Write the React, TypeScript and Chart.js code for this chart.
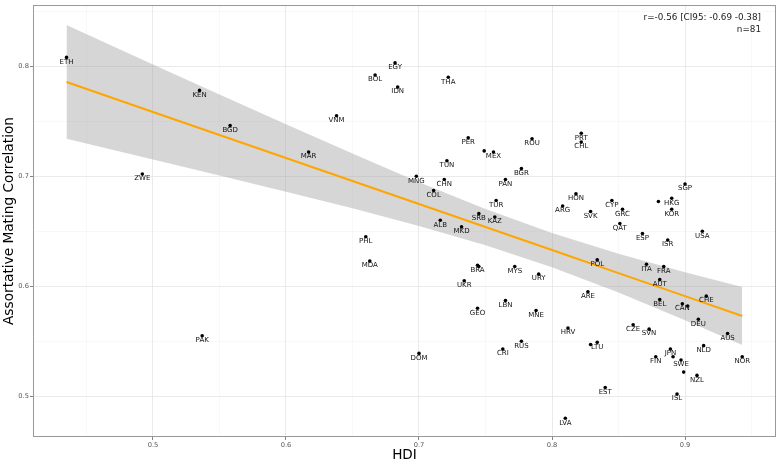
import React, { useRef, useEffect } from 'react';
import { Chart, registerables } from 'chart.js';

Chart.register(...registerables);

// Country codes (empty = point whose label was dropped for overlap)
const countries = [
  'ETH', 'KEN', 'BGD', 'MAR', 'ZWE', 'VNM', 'BOL', 'EGY', 'IDN', 'PHL',
  'MDA', 'PAK', 'THA', 'PER', '', 'MEX', 'ROU', 'PRT', 'CHL', 'TUN',
  'BGR', 'MNG', 'CHN', 'PAN', 'COL', 'TUR', 'HON', 'ARG', 'SVK', 'CYP',
  'GRC', 'QAT', 'SRB', 'KAZ', 'ALB', 'MKD', 'SGP', '', 'HKG', 'KOR',
  'ESP', 'USA', 'ISR', 'BRA', '', 'MYS', 'URY', 'UKR', 'POL', 'ITA',
  'FRA', 'AUT', 'ARE', 'CHE', 'BEL', 'CAN', '', 'LBN', 'GEO', 'MNE',
  'DEU', 'CZE', 'SVN', 'HRV', 'AUS', 'RUS', 'LTU', '', 'CRI', 'NLD',
  'DOM', 'JPN', '', 'FIN', 'SWE', 'NOR', '', 'NZL', 'EST', 'ISL',
  'LVA',
];

const hdi = [
  0.435, 0.535, 0.558, 0.617, 0.492, 0.638, 0.667, 0.682, 0.684, 0.660,
  0.663, 0.537, 0.722, 0.737, 0.749, 0.756, 0.785, 0.822, 0.822, 0.721,
  0.777, 0.698, 0.719, 0.765, 0.711, 0.758, 0.818, 0.808, 0.829, 0.845,
  0.853, 0.851, 0.745, 0.757, 0.716, 0.732, 0.900, 0.880, 0.890, 0.890,
  0.868, 0.913, 0.887, 0.744, 0.745, 0.772, 0.790, 0.734, 0.834, 0.871,
  0.884, 0.881, 0.827, 0.916, 0.881, 0.898, 0.902, 0.765, 0.744, 0.788,
  0.910, 0.861, 0.873, 0.812, 0.932, 0.777, 0.834, 0.829, 0.763, 0.914,
  0.700, 0.889, 0.891, 0.878, 0.897, 0.943, 0.899, 0.909, 0.840, 0.894,
  0.810,
];

const matingCorr = [
  0.808, 0.778, 0.746, 0.722, 0.702, 0.755, 0.792, 0.803, 0.781, 0.645,
  0.623, 0.555, 0.790, 0.735, 0.723, 0.722, 0.734, 0.739, 0.731, 0.714,
  0.707, 0.700, 0.697, 0.697, 0.687, 0.678, 0.684, 0.673, 0.668, 0.678,
  0.670, 0.657, 0.666, 0.663, 0.660, 0.654, 0.693, 0.677, 0.680, 0.670,
  0.648, 0.650, 0.642, 0.619, 0.618, 0.618, 0.611, 0.605, 0.624, 0.620,
  0.618, 0.606, 0.595, 0.591, 0.588, 0.584, 0.582, 0.587, 0.580, 0.578,
  0.570, 0.565, 0.561, 0.562, 0.557, 0.550, 0.549, 0.547, 0.543, 0.546,
  0.539, 0.543, 0.536, 0.536, 0.533, 0.536, 0.522, 0.519, 0.508, 0.502,
  0.480,
];

// Linear fit and its 95% band
const fitX = [0.435, 0.5, 0.55, 0.6, 0.65, 0.7, 0.75, 0.8, 0.85, 0.9, 0.943];
const fitY = [0.7857, 0.7584, 0.7375, 0.7166, 0.6957, 0.6747, 0.6538, 0.6329, 0.6119, 0.591, 0.573];
const fitLow = [0.734, 0.7152, 0.7007, 0.686, 0.6708, 0.6548, 0.6373, 0.6173, 0.5943, 0.5692, 0.5466];
const fitHigh = [0.8374, 0.8016, 0.7743, 0.7472, 0.7206, 0.6946, 0.6703, 0.6485, 0.6295, 0.6128, 0.5994];

const xTicks = [0.45, 0.5, 0.55, 0.6, 0.65, 0.7, 0.75, 0.8, 0.85, 0.9, 0.95];
const yTicks = [0.5, 0.55, 0.6, 0.65, 0.7, 0.75, 0.8, 0.85];

const statText = ['r=-0.56 [CI95: -0.69 -0.38]', 'n=81'];

const FONT = "'DejaVu Sans', sans-serif";

const isMajor = (v: number) => Math.abs(v * 10 - Math.round(v * 10)) < 1e-6;

const pointLabels = {
  id: 'pointLabels',
  afterDatasetsDraw(chart: any) {
    const meta = chart.getDatasetMeta(0);
    const ctx = chart.ctx;
    ctx.save();
    ctx.font = `7px ${FONT}`;
    ctx.fillStyle = '#111';
    ctx.textAlign = 'center';
    ctx.textBaseline = 'middle';
    meta.data.forEach((pt: any, i: number) => {
      if (countries[i]) ctx.fillText(countries[i], pt.x, pt.y + 4.5);
    });
    ctx.restore();
  },
};

const panelFrame = {
  id: 'panelFrame',
  afterDraw(chart: any) {
    const { ctx, chartArea: a } = chart;
    ctx.save();
    ctx.strokeStyle = '#999999';
    ctx.lineWidth = 1;
    ctx.strokeRect(a.left + 0.5, a.top + 0.5, a.right - a.left - 1, a.bottom - a.top - 1);
    ctx.font = `8.8px ${FONT}`;
    ctx.fillStyle = '#222';
    ctx.textAlign = 'right';
    ctx.textBaseline = 'middle';
    statText.forEach((t, i) => ctx.fillText(t, a.right - 15, a.top + 12.5 + i * 12));
    ctx.restore();
  },
};

const App: React.FC = () => {
  const canvasRef = useRef<HTMLCanvasElement>(null);
  const chartRef = useRef<Chart | null>(null);

  useEffect(() => {
    document.body.style.margin = '0';
    if (!canvasRef.current) return;
    if (chartRef.current) chartRef.current.destroy();

    const gridOpts = {
      color: (c: any) => (isMajor(c.tick.value) ? '#e8e8e8' : '#f1f1f1'),
      lineWidth: (c: any) => (isMajor(c.tick.value) ? 0.9 : 0.5),
      tickColor: (c: any) => (isMajor(c.tick.value) ? '#666' : 'rgba(0,0,0,0)'),
      tickLength: 3,
      tickWidth: 0.8,
    };
    const tickOpts = {
      font: { family: FONT, size: 6.7 },
      color: '#555',
      padding: 1,
      autoSkip: false,
      maxRotation: 0,
      callback: (v: any) => (isMajor(Number(v)) ? Number(v).toFixed(1) : ''),
    };

    chartRef.current = new Chart(canvasRef.current, {
      type: 'scatter',
      data: {
        datasets: [
          {
            data: hdi.map((x, i) => ({ x, y: matingCorr[i] })),
            backgroundColor: '#000',
            borderWidth: 0,
            pointRadius: 1.8,
          },
          {
            type: 'line',
            data: fitX.map((x, i) => ({ x, y: fitY[i] })),
            borderColor: '#FFA500',
            borderWidth: 2,
            pointRadius: 0,
            fill: false,
          },
          {
            type: 'line',
            data: fitX.map((x, i) => ({ x, y: fitHigh[i] })),
            borderWidth: 0,
            borderColor: 'rgba(0,0,0,0)',
            backgroundColor: 'rgba(153,153,153,0.4)',
            pointRadius: 0,
            fill: '+1',
          },
          {
            type: 'line',
            data: fitX.map((x, i) => ({ x, y: fitLow[i] })),
            borderWidth: 0,
            borderColor: 'rgba(0,0,0,0)',
            pointRadius: 0,
            fill: false,
          },
        ],
      } as any,
      options: {
        responsive: true,
        maintainAspectRatio: false,
        animation: false,
        layout: { padding: { left: 0, top: 3, right: 3, bottom: 0 } },
        plugins: {
          legend: { display: false },
          tooltip: { enabled: false },
        },
        scales: {
          x: {
            type: 'linear',
            min: 0.4098,
            max: 0.9684,
            afterBuildTicks: (axis: any) => {
              axis.ticks = xTicks.map((v) => ({ value: v }));
            },
            afterFit: (axis: any) => {
              axis.height = 28;
            },
            grid: gridOpts,
            border: { display: false },
            ticks: tickOpts,
            title: {
              display: true,
              text: 'HDI',
              font: { family: FONT, size: 13.6 },
              color: '#000',
              padding: { top: 0, bottom: 1.5 },
            },
          },
          y: {
            type: 'linear',
            min: 0.463,
            max: 0.8556,
            afterBuildTicks: (axis: any) => {
              axis.ticks = yTicks.map((v) => ({ value: v }));
            },
            afterFit: (axis: any) => {
              axis.width = 33;
            },
            grid: gridOpts,
            border: { display: false },
            ticks: tickOpts,
            title: {
              display: true,
              text: 'Assortative Mating Correlation',
              font: { family: FONT, size: 13.7 },
              color: '#000',
              padding: { top: 1, bottom: 0 },
            },
          },
        },
      } as any,
      plugins: [pointLabels, panelFrame],
    });

    return () => {
      if (chartRef.current) {
        chartRef.current.destroy();
        chartRef.current = null;
      }
    };
  }, []);

  return (
    <div style={{ width: 780, height: 465, position: 'relative' }}>
      <canvas ref={canvasRef}></canvas>
    </div>
  );
};

export default App;
